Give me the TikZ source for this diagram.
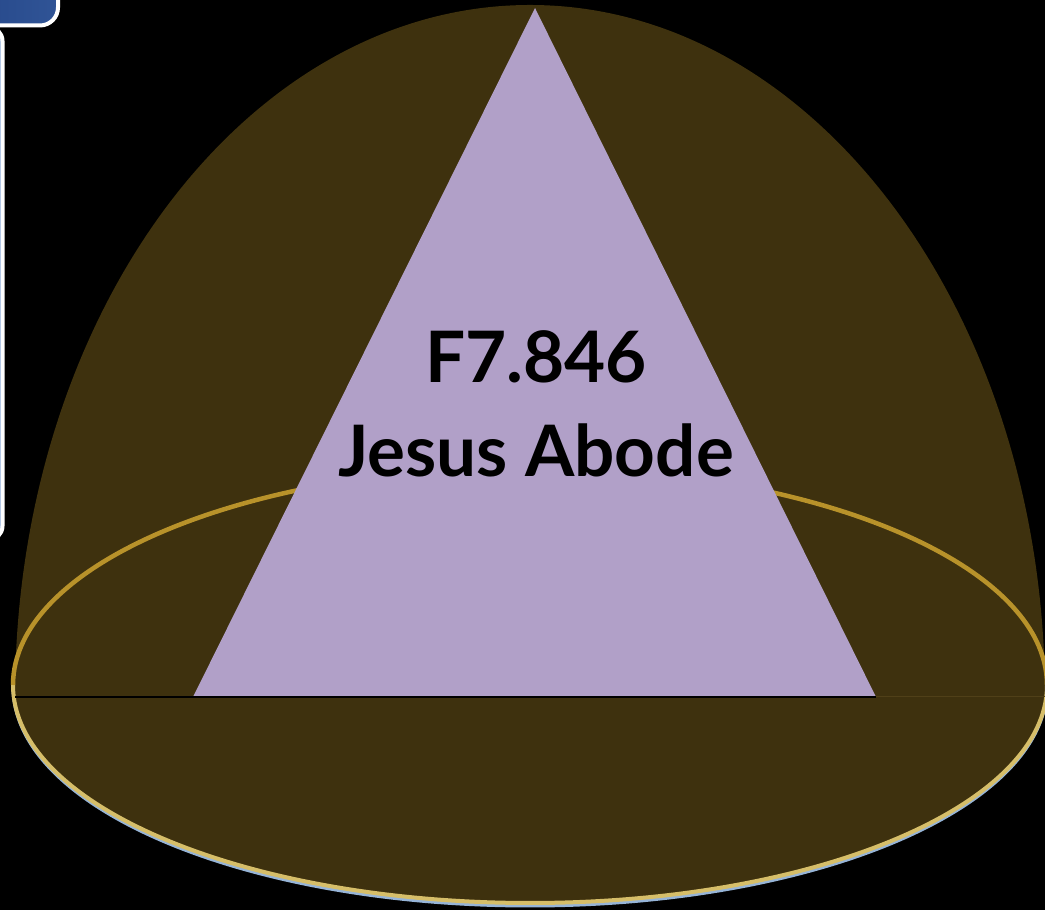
\documentclass[tikz,border=0pt]{standalone}
\usepackage{fontspec}
\setmainfont{Lato}
\definecolor{domecol}{RGB}{62,49,14}
\definecolor{lav}{RGB}{177,160,200}
\definecolor{goldup}{RGB}{184,146,42}
\definecolor{goldlow}{RGB}{214,190,105}
\definecolor{shadowblue}{RGB}{150,180,215}
\definecolor{tabblue}{RGB}{33,66,132}
\definecolor{tabblue2}{RGB}{48,84,150}
\definecolor{boxblue}{RGB}{140,170,215}
\definecolor{baseline}{RGB}{20,15,5}
\definecolor{basefaint}{RGB}{80,64,24}
\tikzset{
  label/.style={font=\fontsize{71}{84}\selectfont\bfseries, text=black, anchor=base, inner sep=0pt},
}
\begin{document}
\begin{tikzpicture}[x=1pt,y=1pt]
\useasboundingbox (0,0) rectangle (1045,910);
\fill[black] (0,0) rectangle (1045,910);
% side panel (partly visible)
\draw[white, line width=4pt, fill=boxblue, rounded corners=14pt] (-80,370) rectangle (2.5,883);
% blue tab
\draw[white, line width=4pt, left color=tabblue, right color=tabblue2, rounded corners=18pt] (-80,884.5) rectangle (58,960);
% dome
\fill[domecol] (15,213) arc[start angle=180, end angle=0, x radius=515pt, y radius=692pt] -- cycle;
% ellipse base
\fill[domecol] (530,225) ellipse[x radius=517pt, y radius=218pt];
\draw[shadowblue, line width=3pt] (13,223) arc[start angle=180, end angle=360, x radius=517pt, y radius=219pt];
\draw[goldlow, line width=4pt] (13,225) arc[start angle=180, end angle=360, x radius=517pt, y radius=218pt];
\draw[goldup, line width=4.5pt] (13,225) arc[start angle=180, end angle=0, x radius=517pt, y radius=218pt];
% triangle
\coordinate (apex) at (535,902);
\coordinate (bl) at (193,213);
\coordinate (br) at (876,213);
\fill[lav] (apex) -- (bl) -- (br) -- cycle;
% base line
\coordinate (bleft) at (15,213);
\coordinate (bright) at (1045,213);
\draw[baseline, line width=2pt] (bleft) -- (br);
\draw[basefaint, line width=1pt] (br) -- (bright);
% text
\node[label] (t1) at (536,527) {F7.846};
\node[label] (t2) at (536,433) {Jesus Abode};
\end{tikzpicture}
\end{document}
